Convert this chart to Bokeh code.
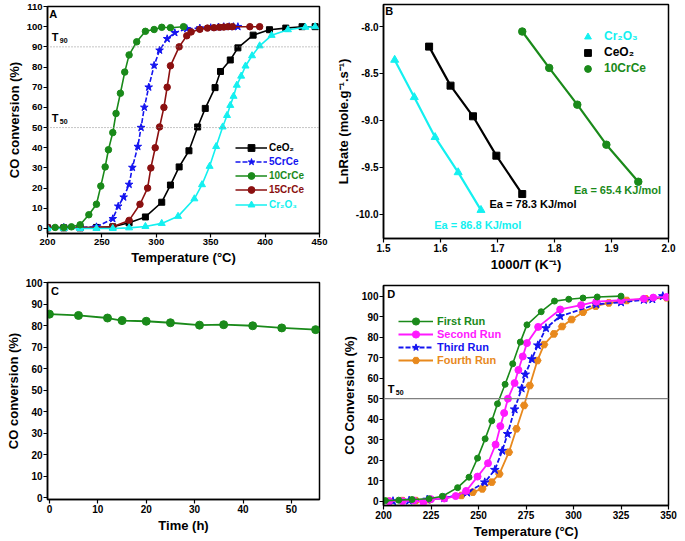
from bokeh.plotting import figure
from bokeh.models import Span, Label, Legend, LegendItem, FixedTicker, PrintfTickFormatter, Range1d
from bokeh.layouts import row, column
from bokeh.core.properties import value
from bokeh.embed import file_html
from bokeh.resources import INLINE

FONT = "Liberation Sans"

# ---------------- Panel A : light-off curves ----------------
a_ceo2_t = [200, 215, 230, 245, 260, 275, 290, 305, 313, 321, 330, 338, 345, 354, 359, 368, 375, 389, 404, 419, 434, 446]
a_ceo2_y = [0.3, 0.3, 0.3, 0.5, 0.8, 2.8, 5.7, 13, 21.5, 30.5, 38.5, 50.3, 59.5, 69.8, 77.8, 83.5, 89.5, 95.8, 98.5, 99.3, 100, 100]
a_5crce_t = [200, 215, 230, 245, 260, 265, 270, 275, 278, 283, 286, 289, 293, 298, 303, 310, 317, 328, 340, 350, 357, 362, 367, 371, 375]
a_5crce_y = [0.5, 0.5, 0.5, 0.8, 4.8, 11, 15.5, 21.8, 30.2, 40.6, 50, 60, 70, 80.8, 88.3, 94, 97, 99, 99.3, 99.5, 99.8, 100, 100, 100, 100]
a_10crce_t = [207, 215, 222, 230, 238, 245, 249, 253, 256, 260, 263, 267, 271, 275, 282, 290, 298, 305, 313, 325]
a_10crce_y = [0.5, 0.5, 0.8, 1.8, 6.8, 12, 21, 30.5, 39, 47.5, 57, 67, 77.5, 86, 92.5, 97.7, 98.6, 99.7, 99.5, 100]
a_15crce_t = [200, 230, 260, 275, 285, 292, 295, 299, 303, 307, 310, 313, 321, 328, 332, 340, 347, 353, 358, 362, 366, 370, 386, 395]
a_15crce_y = [0.5, 0.5, 0.8, 4, 12, 20, 30, 40, 50.3, 60, 70, 80.6, 90, 95.5, 97.4, 98.7, 99.3, 99.5, 99.7, 99.8, 100, 100, 100, 100]
a_cr2o3_t = [200, 215, 230, 245, 260, 275, 290, 305, 320, 335, 342, 349, 355, 361, 365, 368, 371, 374, 378, 382, 388, 395, 406, 421, 437, 446]
a_cr2o3_y = [0, 0, 0, 0, 0, 0.3, 1, 2.5, 6, 14.7, 21.7, 30.8, 40.6, 50.3, 56, 61, 65.5, 71, 75.5, 80.5, 85.6, 90.5, 95.7, 98.5, 99.7, 100]
a_xticks = [200, 250, 300, 350, 400, 450]
a_yticks = [0, 10, 20, 30, 40, 50, 60, 70, 80, 90, 100, 110]
a_levels = [90, 50]
a_level_names = ["90", "50"]

# ---------------- Panel B : Arrhenius ----------------
b_cr2o3_x = [1.5196, 1.554, 1.5905, 1.631, 1.671]
b_cr2o3_y = [-8.356, -8.754, -9.18, -9.555, -9.957]
b_ceo2_x = [1.580, 1.6176, 1.657, 1.698, 1.7434]
b_ceo2_y = [-8.214, -8.63, -8.957, -9.377, -9.786]
b_10crce_x = [1.7434, 1.7907, 1.840, 1.891, 1.947]
b_10crce_y = [-8.053, -8.441, -8.833, -9.26, -9.655]
b_ea_text = ["Ea = 86.8 KJ/mol", "Ea = 78.3 KJ/mol", "Ea = 65.4 KJ/mol"]
b_ea_x = [1.589, 1.686, 1.834]
b_ea_y = [-10.114, -9.893, -9.744]
b_xticks = [1.5, 1.6, 1.7, 1.8, 1.9, 2.0]
b_yticks = [-10.0, -9.5, -9.0, -8.5, -8.0]

# ---------------- Panel C : stability ----------------
c_time = [0, 6, 12, 15, 20, 25, 31, 36, 42, 48, 55]
c_conv = [85.3, 84.7, 83.5, 82.3, 82, 81.3, 80.2, 80.4, 79.9, 78.9, 78.1]
c_xticks = [0, 10, 20, 30, 40, 50]
c_yticks = [0, 10, 20, 30, 40, 50, 60, 70, 80, 90, 100]

# ---------------- Panel D : recycling runs ----------------
d_run1_t = [201, 208, 215, 224, 231, 239, 245, 249.5, 253.5, 257, 260, 264, 268, 272, 275.5, 283, 290, 297.5, 305, 312.5, 325]
d_run1_y = [0.3, 0.5, 0.8, 1.2, 2.4, 6.6, 11.7, 21, 30.4, 39.2, 47.5, 57, 67, 77.6, 86, 92.4, 97.6, 98.5, 99.1, 99.6, 100]
d_run2_t = [203, 210, 216, 221, 225, 232, 238, 243.5, 249.5, 255, 259, 261.5, 263.5, 265.5, 269, 271, 273.3, 275.5, 281.4, 293, 304, 312, 325, 337, 342, 349]
d_run2_y = [0, 0, 0.3, -0.5, 1, 1.3, 2.5, 5, 12, 18.5, 27.6, 36.6, 43, 50, 57.6, 64, 70.6, 77.1, 85, 93.5, 95.6, 97.3, 98, 98.7, 99.3, 99.6]
d_run3_t = [205, 213.5, 223, 232, 244, 253.3, 258.6, 262.5, 265.3, 269, 272.7, 274.6, 278, 281.2, 285.5, 293, 312, 325, 337, 341.5, 347]
d_run3_y = [0, 0.3, 0.8, 1.5, 4.2, 9.2, 15.3, 24.6, 32.8, 44.8, 55, 61.8, 69.3, 76, 84.4, 90.2, 96, 97, 98.2, 98.5, 100]
d_run4_t = [203, 210, 217, 224, 232, 241, 247, 252, 257, 261, 266, 270, 274, 277, 281, 284.5, 289.7, 294, 299, 305, 311.7, 318.6, 328, 338, 349]
d_run4_y = [0, 0.3, 0.3, 0.7, 1.5, 2.8, 4.4, 6, 9.3, 13.3, 23.9, 35.3, 46.7, 56.4, 68.6, 76.4, 81.6, 85.2, 88.6, 92.2, 95.1, 96.7, 97.9, 98.7, 99.2]
d_xticks = [200, 225, 250, 275, 300, 325, 350]
d_yticks = [0, 10, 20, 30, 40, 50, 60, 70, 80, 90, 100]
d_level = 50

GREEN = "#1a8a1a"
BLUE = "#1414f0"
DRED = "#8b1010"
CYAN = "#14f0f0"
MAGENTA = "#ff19ff"
ORANGE = "#e8891d"
BLACK = "#000000"


def make_fig(w, h, xr, yr, xticks, yticks, xlabel, ylabel, mb, tick_fs="9.5px", lab_fs="13px", fmt=None):
    p = figure(width=w, height=h, x_range=Range1d(*xr), y_range=Range1d(*yr),
               output_backend="svg", toolbar_location=None,
               min_border_left=mb[0], min_border_right=mb[1], min_border_top=mb[2], min_border_bottom=mb[3])
    p.grid.visible = False
    p.outline_line_color = "black"
    p.outline_line_width = 1.5
    p.outline_line_alpha = 1
    p.background_fill_color = "white"
    p.border_fill_color = "white"
    p.xaxis.ticker = FixedTicker(ticks=xticks)
    p.yaxis.ticker = FixedTicker(ticks=yticks)
    if fmt:
        p.xaxis.formatter = PrintfTickFormatter(format=fmt[0])
        p.yaxis.formatter = PrintfTickFormatter(format=fmt[1])
    p.xaxis.axis_label = xlabel
    p.yaxis.axis_label = ylabel
    for ax in (p.xaxis[0], p.yaxis[0]):
        ax.major_label_text_font = FONT
        ax.major_label_text_font_style = "bold"
        ax.major_label_text_font_size = tick_fs
        ax.major_label_text_color = "black"
        ax.axis_label_text_font = FONT
        ax.axis_label_text_font_style = "bold"
        ax.axis_label_text_font_size = lab_fs
        ax.axis_label_text_color = "black"
        ax.major_tick_out = 4
        ax.major_tick_in = 0
        ax.minor_tick_out = 0
        ax.minor_tick_in = 0
        ax.axis_line_width = 1.5
        ax.major_tick_line_width = 1.2
        ax.major_label_standoff = 1
        ax.axis_label_standoff = 2
    return p


def add_legend(p, label, rends, color, x, y, gw, gh, standoff, fs):
    lg = Legend(items=[LegendItem(label=label, renderers=rends)], location=(x, y),
                padding=0, margin=0, spacing=0, glyph_width=int(gw), glyph_height=int(gh),
                label_height=int(gh), label_width=10, label_standoff=int(standoff),
                label_text_font=FONT, label_text_font_size=fs, label_text_font_style="bold",
                label_text_color=color, label_text_baseline="middle",
                background_fill_alpha=0, border_line_alpha=0)
    p.add_layout(lg)


def series(p, x, y, color, marker, size, dash="solid", lw=1.6):
    l = p.line(x, y, line_color=color, line_width=lw, line_dash=dash)
    s = p.scatter(x, y, marker=marker, size=size, fill_color=color, line_color=color)
    return [l, s]


def panel_letter(p, x, y, t):
    p.add_layout(Label(x=x, y=y, text=t, text_font=FONT, text_font_style="bold",
                       text_font_size="11px", text_baseline="top", text_color="black"))


def t_label(p, x, y, sub, fs="11px", sfs="7px"):
    p.add_layout(Label(x=x, y=y, text="T", text_font=FONT, text_font_style="bold",
                       text_font_size=fs, text_baseline="top", text_color="black"))
    p.add_layout(Label(x=x, y=y, x_offset=8, y_offset=-7, text=sub, text_font=FONT, text_font_style="bold",
                       text_font_size=sfs, text_baseline="top", text_color="black"))


# ---------- A ----------
pa = make_fig(332, 269, (200, 450), (-2.5, 110), a_xticks, a_yticks,
              "Temperature (°C)", "CO conversion (%)", (47, 8, 6, 36), tick_fs="9.5px")
for lv, nm in zip(a_levels, a_level_names):
    pa.add_layout(Span(location=lv, dimension="width", line_color="#8c8c8c", line_dash="1 2", line_width=1))
    t_label(pa, 204, lv + 7.8, nm)
r_ceo2 = series(pa, a_ceo2_t, a_ceo2_y, BLACK, "square", 6)
r_5 = series(pa, a_5crce_t, a_5crce_y, BLUE, "star", 8, dash="5 2")
r_15 = series(pa, a_15crce_t, a_15crce_y, DRED, "circle", 6.5)
r_cr = series(pa, a_cr2o3_t, a_cr2o3_y, CYAN, "triangle", 7)
r_10 = series(pa, a_10crce_t, a_10crce_y, GREEN, "circle", 6.5)
panel_letter(pa, 201.5, 109.3, "A")
leg_a = [("CeO₂", r_ceo2, BLACK), ("5CrCe", r_5, BLUE), ("10CrCe", r_10, GREEN),
         ("15CrCe", r_15, DRED), ("Cr₂O₃", r_cr, CYAN)]
for i, (lab, rr, col) in enumerate(leg_a):
    add_legend(pa, lab, rr, col, 188, 77.5 - i * 14.3, 32, 17, 2, "10px")

# ---------- B ----------
pb = make_fig(353, 274, (1.5, 2.0), (-10.26, -7.765), b_xticks, b_yticks,
              "1000/T (K⁻¹)", "LnRate (mole.g⁻¹.s⁻¹)", (47, 17, 4, 36), tick_fs="10px",
              fmt=("%.1f", "%.1f"))
rb_cr = series(pb, b_cr2o3_x, b_cr2o3_y, CYAN, "triangle", 8, lw=2.2)
rb_ce = series(pb, b_ceo2_x, b_ceo2_y, BLACK, "square", 7, lw=2.2)
rb_10 = series(pb, b_10crce_x, b_10crce_y, GREEN, "circle", 7.5, lw=2.2)
pb.text(x=b_ea_x, y=b_ea_y, text=b_ea_text, text_color=[CYAN, BLACK, GREEN],
        text_font=value(FONT), text_font_style="bold", text_font_size="11px", text_baseline="middle")
panel_letter(pb, 1.503, -7.775, "B")
leg_b = [("Cr₂O₃", [rb_cr[1]], CYAN), ("CeO₂", [rb_ce[1]], BLACK), ("10CrCe", [rb_10[1]], GREEN)]
for i, (lab, rr, col) in enumerate(leg_b):
    add_legend(pb, lab, rr, col, 196, 193.5 - i * 16, 17, 17, 8, "12px")

# ---------- C ----------
pc = make_fig(332, 266, (-0.4, 55.8), (-0.8, 100), c_xticks, c_yticks,
              "Time (h)", "CO conversion (%)", (42, 13, 13, 36), tick_fs="10px")
series(pc, c_time, c_conv, GREEN, "circle", 8, lw=1.8)
panel_letter(pc, 0.3, 99, "C")

# ---------- D ----------
pd_ = make_fig(353, 267, (200, 350), (-2.1, 105.2), d_xticks, d_yticks,
               "Temperature (°C)", "CO Conversion (%)", (51, 12, 11, 36), tick_fs="10px")
pd_.add_layout(Span(location=d_level, dimension="width", line_color="#808080", line_width=1.3))
t_label(pd_, 202.3, d_level + 7.5, "50")
rd4 = series(pd_, d_run4_t, d_run4_y, ORANGE, "hex", 7.5, lw=1.8)
rd3 = series(pd_, d_run3_t, d_run3_y, BLUE, "star", 9, dash="5 2", lw=1.8)
rd2 = series(pd_, d_run2_t, d_run2_y, MAGENTA, "circle", 7, lw=1.8)
rd1 = series(pd_, d_run1_t, d_run1_y, GREEN, "circle", 6, lw=1.6)
panel_letter(pd_, 202, 104, "D")
leg_d = [("First Run", rd1, GREEN), ("Second Run", rd2, MAGENTA), ("Third Run", rd3, BLUE), ("Fourth Run", rd4, ORANGE)]
for i, (lab, rr, col) in enumerate(leg_d):
    add_legend(pd_, lab, rr, col, 15, 175.3 - i * 13.1, 35, 18, 4, "11px")

layout = row(column(pa, pc), column(pb, pd_))
open("out.html", "w").write(file_html(layout, INLINE))
